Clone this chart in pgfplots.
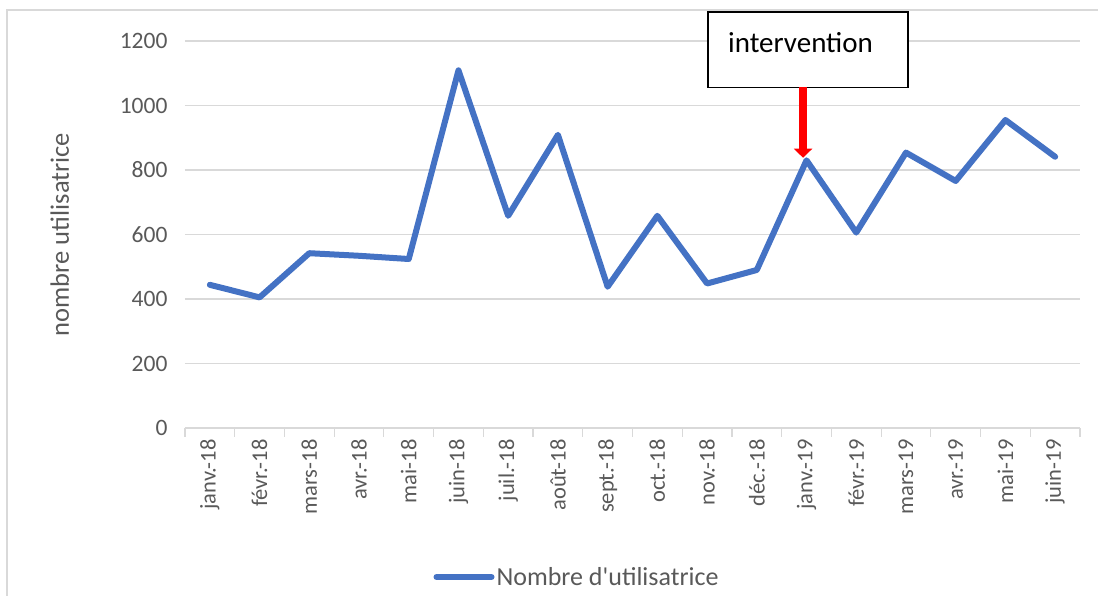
\documentclass[border=0pt]{standalone}
\usepackage{pgfplots}
\pgfplotsset{compat=1.18}
\usepackage{fontspec}
\setmainfont{Carlito}
\usetikzlibrary{arrows.meta}
\definecolor{xlblue}{HTML}{4472C4}
\definecolor{gridc}{HTML}{D9D9D9}
\definecolor{txt}{HTML}{595959}
\begin{document}
\begin{tikzpicture}
\useasboundingbox (-185pt,-168pt) rectangle (913pt,428pt);
\draw[gridc, line width=1.2pt] (-178pt,-170pt) -- (-178pt,418pt) -- (915pt,418pt);
\begin{axis}[
  scale only axis,
  width=895pt, height=387pt,
  xmin=-0.5, xmax=17.5,
  ymin=0, ymax=1200,
  ytick={0,200,...,1200},
  xtick={0,...,17},
  xticklabels={janv.-18,févr.-18,mars-18,avr.-18,mai-18,juin-18,juil.-18,août-18,sept.-18,oct.-18,nov.-18,déc.-18,janv.-19,févr.-19,mars-19,avr.-19,mai-19,juin-19},
  minor xtick={-0.5,0.5,...,17.5},
  major tick length=0pt,
  minor tick length=9pt,
  tick align=outside,
  tick pos=left,
  minor tick style={gridc, line width=1.2pt},
  axis line style={draw=none},
  ymajorgrids,
  major grid style={gridc, line width=1.2pt},
  /pgf/number format/assume math mode=true,
  /pgf/number format/1000 sep={},
  yticklabel style={font=\fontsize{23.5}{27}\selectfont, text=txt, anchor=east, xshift=-14pt},
  xticklabel style={font=\fontsize{22.5}{26}\selectfont, text=txt, rotate=90, anchor=east, xshift=-8pt},
  ylabel={nombre utilisatrice},
  ylabel style={font=\fontsize{26.5}{30}\selectfont, text=txt, at={(axis description cs:-0.14,0.5)}, anchor=center, rotate=0},
  clip=false,
  legend style={draw=none, fill=none, font=\fontsize{26}{30}\selectfont, text=txt, at={(axis description cs:0.438,-0.385)}, anchor=center, inner sep=0pt},
  legend image code/.code={\draw[#1] (0pt,0pt) -- (55pt,0pt);},
  legend cell align=left,
]
\addplot[xlblue, line width=6pt, line join=round, line cap=round] coordinates {
(0,444) (1,405) (2,542) (3,534) (4,524) (5,1109) (6,658) (7,909) (8,438)
(9,658) (10,448) (11,490) (12,830) (13,606) (14,854) (15,766) (16,955) (17,841)
};
\addlegendentry{Nombre d\textquotesingle utilisatrice}
\draw[black, line width=1.2pt, fill=white] (axis cs:10.02,1290) rectangle (axis cs:14.04,1057);
\node[anchor=base west, inner sep=0pt, font=\fontsize{29}{33}\selectfont] at (axis cs:10.42,1163) {intervention};
\draw[red, line width=8pt, -{Triangle[width=18pt,length=9pt]}] (axis cs:11.93,1057) -- (axis cs:11.93,838);
\end{axis}
\end{tikzpicture}
\end{document}
